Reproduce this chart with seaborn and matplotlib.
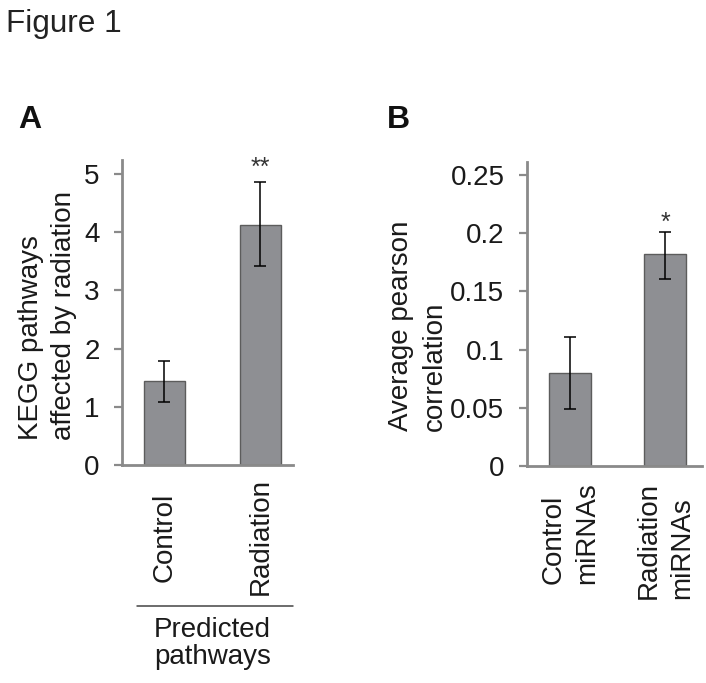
import seaborn as sns
import matplotlib.pyplot as plt
import matplotlib.transforms as mtransforms
import pandas as pd

# panel A: KEGG pathways affected by radiation
kegg_groups = ["Control", "Radiation"]
kegg_means = [1.44, 4.13]
kegg_low = [1.09, 3.42]
kegg_high = [1.79, 4.87]
kegg_stars = ["", "**"]
kegg_ticks = [0, 1, 2, 3, 4, 5]

# panel B: average pearson correlation
corr_groups = ["Control\nmiRNAs", "Radiation\nmiRNAs"]
corr_means = [0.080, 0.182]
corr_low = [0.049, 0.161]
corr_high = [0.111, 0.201]
corr_stars = ["", "*"]
corr_ticks = [0, 0.05, 0.1, 0.15, 0.2, 0.25]
corr_ticklabels = ["0", "0.05", "0.1", "0.15", "0.2", "0.25"]

sns.set_style("ticks")
plt.rcParams['font.family'] = ['Liberation Sans', 'DejaVu Sans']

BAR = "#8e8f93"
EDGE = "#5c5c5c"
SPINE = "#8a8a8a"
FS = 20

fig = plt.figure(figsize=(7.06, 6.83), dpi=100)
axA = fig.add_axes([0.1728, 0.3192, 0.2422, 0.4465])
axB = fig.add_axes([0.746, 0.3177, 0.2483, 0.4456])


def draw_panel(ax, groups, means, low, high, stars, star_off, width):
    df = pd.DataFrame({"group": groups, "value": means})
    sns.barplot(data=df, x="group", y="value", ax=ax, color=BAR,
                saturation=1, width=width, edgecolor=EDGE, linewidth=1,
                errorbar=None)
    err = [[m - l for m, l in zip(means, low)],
           [h - m for m, h in zip(means, high)]]
    ax.errorbar(range(len(groups)), means, yerr=err, fmt="none",
                ecolor="black", elinewidth=1.1, capsize=4.5, capthick=1.1)
    for i, s in enumerate(stars):
        if s:
            ax.annotate(s, (i, high[i]), xytext=(0, star_off),
                        textcoords="offset points", ha="center",
                        va="baseline", fontsize=18, color="#333333")
    sns.despine(ax=ax)
    ax.spines["left"].set_color(SPINE)
    ax.spines["bottom"].set_color(SPINE)
    ax.spines["left"].set_linewidth(2)
    ax.spines["bottom"].set_linewidth(2)
    ax.tick_params(axis="y", length=6, width=1.6, color=SPINE,
                   labelsize=FS, pad=10, labelcolor="#1a1a1a")
    ax.set_xlabel("")


# ---- A ----
draw_panel(axA, kegg_groups, kegg_means, kegg_low, kegg_high, kegg_stars, 4.5, 0.43)
axA.set_xlim(-0.44, 1.34)
axA.set_ylim(0, 5.24)
axA.set_yticks(kegg_ticks)
axA.set_yticklabels([str(t) for t in kegg_ticks])
axA.tick_params(axis="x", length=0, pad=51.8, labelsize=FS, labelcolor="#1a1a1a")
for lab in axA.get_xticklabels():
    lab.set_rotation(90)
    lab.set_va("center")
axA.set_ylabel("KEGG pathways\naffected by radiation", fontsize=FS,
               linespacing=1.34, multialignment="left", color="#1a1a1a")
axA.yaxis.set_label_coords(-0.265, 0.49)

trans = mtransforms.blended_transform_factory(axA.transData, axA.transAxes)
axA.plot([-0.286, 1.34], [-0.462, -0.462], transform=trans, clip_on=False,
         color="#444444", lw=1.1)
axA.text(0.5, -0.5, "Predicted\npathways", transform=trans, ha="center",
         va="top", fontsize=FS, linespacing=1.05, color="#1a1a1a")

# ---- B ----
draw_panel(axB, corr_groups, corr_means, corr_low, corr_high, corr_stars, 1.2, 0.44)
axB.set_xlim(-0.453, 1.382)
axB.set_ylim(0, 0.2614)
axB.set_yticks(corr_ticks)
axB.set_yticklabels(corr_ticklabels)
axB.tick_params(axis="x", length=0, pad=11.5, labelsize=FS, labelcolor="#1a1a1a")
for lab in axB.get_xticklabels():
    lab.set_rotation(90)
    lab.set_va("top")
    lab.set_multialignment("left")
    lab.set_linespacing(1.38)
axB.set_ylabel("Average pearson\ncorrelation", fontsize=FS,
               linespacing=1.4, multialignment="left", color="#1a1a1a")
axB.yaxis.set_label_coords(-0.449, 0.46)

# figure and panel titles
fig.text(6 / 706, 1 - 32 / 683, "Figure 1", fontsize=22.7, va="baseline",
         color="#222222")
fig.text(18 / 706, 1 - 128 / 683, "A", fontsize=23, fontweight="bold",
         va="baseline", color="#111111")
fig.text(387 / 706, 1 - 128 / 683, "B", fontsize=23, fontweight="bold",
         va="baseline", color="#111111")

fig.savefig("out.png", dpi=100)
